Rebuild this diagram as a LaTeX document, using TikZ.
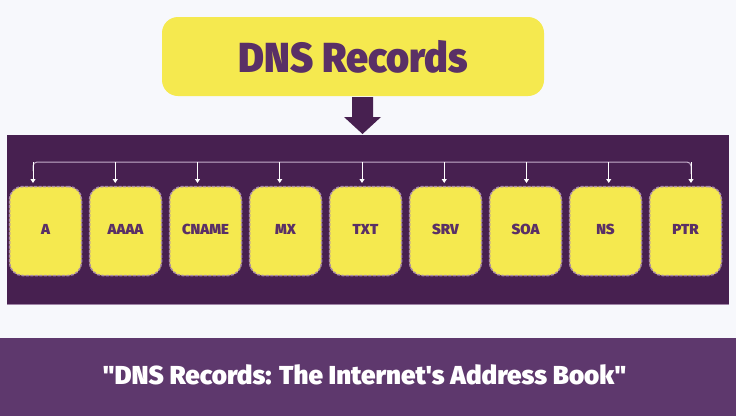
\documentclass[tikz,border=0pt]{standalone}
\usepackage{fontspec}
\usepackage{graphicx}
\setmainfont{Fira Sans}
\newfontfamily\heavyfont{Fira Sans Black}[Ligatures=TeXOff]
\usetikzlibrary{arrows.meta}
\definecolor{bg}{HTML}{F7F8FC}
\definecolor{yel}{HTML}{F5E94F}
\definecolor{panel}{HTML}{472050}
\definecolor{ttxt}{HTML}{5A3066}
\definecolor{foot}{HTML}{5E386D}
\definecolor{dash}{HTML}{A98AA8}
\definecolor{bus}{HTML}{C6B0CC}
\tikzset{
  rec/.style={draw=dash, fill=yel, dashed, dash pattern=on 3pt off 1.5pt, line width=1.5pt,
    rounded corners=13pt, minimum width=72pt, minimum height=89pt, inner sep=0pt,
    text=ttxt, font=\heavyfont\fontsize{14.5}{14.5}\selectfont},
  busline/.style={draw=bus, line width=1pt},
  drop/.style={draw=white, line width=1pt, -{Triangle[width=5pt,length=4pt]}},
}
\begin{document}
\begin{tikzpicture}[x=1pt,y=-1pt]
\fill[bg] (0,0) rectangle (736,416);
\useasboundingbox (0,0) rectangle (736,416);
% title
\node[fill=yel, rounded corners=16pt, minimum width=382pt, minimum height=79pt, inner sep=0pt,
  text=ttxt, font=\heavyfont\fontsize{42}{42}\selectfont] (title) at (353,56.5) {\scalebox{0.94}[1]{DNS Records}};
% panel
\fill[panel] (7,135) rectangle (729,305);
\draw[bus!70!panel, line width=1pt] (7,304.5) -- (729,304.5);
\node[inner sep=0pt, minimum width=722pt, minimum height=170pt] (panel) at (368,220) {};
% big arrow
\fill[panel] (352,97) -- (373,97) -- (373,117) -- (381,117) -- (362.5,134) -- (344,117) -- (352,117) -- cycle;
% boxes
\foreach \n/\t [count=\i from 0] in {a/A, aaaa/AAAA, cname/CNAME, mx/MX, txt/TXT, srv/SRV, soa/SOA, ns/NS, ptr/PTR}{
  \node[rec] (\n) at (45.5+80*\i, 231) {\raisebox{4pt}{\scalebox{1.03}[1]{\t}}};
}
% bus
\foreach \n [count=\i from 0] in {a,aaaa,cname,mx,txt,srv,soa,ns,ptr}{
  \coordinate (b\n) at (33+82.25*\i, 162);
  \coordinate (e\n) at (33+82.25*\i, 183);
}
\draw[busline, rounded corners=4pt] (ea) ++(0,-12) |- (bptr) -- ++(0,12);
\foreach \n in {a,aaaa,cname,mx,txt,srv,soa,ns,ptr}{
  \draw[drop] (b\n) -- (e\n);
}
% footer
\fill[foot] (0,338) rectangle (736,416);
\node[text=white, font=\heavyfont\fontsize{26}{26}\selectfont] (footer) at (364.5,375) {\scalebox{1.0}[1]{"DNS Records: The Internet's Address Book"}};
\end{tikzpicture}
\end{document}
